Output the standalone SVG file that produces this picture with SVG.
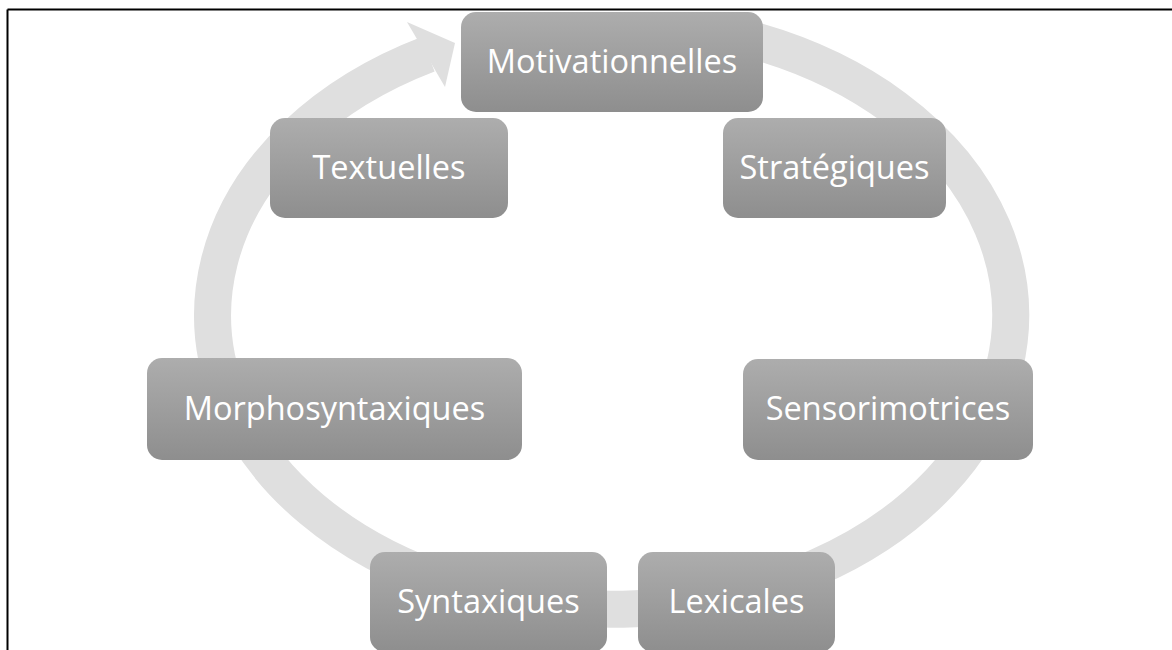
<svg xmlns="http://www.w3.org/2000/svg" width="1172" height="650" viewBox="0 0 1172 650">
<defs>
<linearGradient id="g" x1="0" y1="0" x2="0" y2="1">
<stop offset="0" stop-color="#adadad"/>
<stop offset="1" stop-color="#8e8e8e"/>
</linearGradient>
<style>
.box{fill:url(#g);}
.lbl{font-family:"Open Sans","Liberation Sans",sans-serif;font-size:32.5px;fill:#ffffff;text-anchor:middle;}
.ring{fill:none;stroke:#dfdfdf;stroke-width:37;}
</style>
</defs>
<rect x="0" y="0" width="1172" height="650" fill="#ffffff"/>
<g id="frame">
<line x1="7.5" y1="9.5" x2="1172" y2="9.5" stroke="#000" stroke-width="2"/>
<line x1="7.5" y1="9.5" x2="7.5" y2="650" stroke="#000" stroke-width="2"/>
</g>
<g id="connectors">
<path class="ring" d="M 752,40 A 399 294 0 1 1 428,54.2"/>
<polygon points="407,22 455,43 445,87" fill="#dfdfdf"/>
</g>
<g id="n1"><rect class="box" x="461" y="12" width="302" height="100" rx="15"/><text class="lbl" x="612" y="73">Motivationnelles</text></g>
<g id="n2"><rect class="box" x="723" y="118" width="223" height="100" rx="15"/><text class="lbl" x="834.5" y="179">Stratégiques</text></g>
<g id="n3"><rect class="box" x="743" y="359" width="290" height="101" rx="15"/><text class="lbl" x="888" y="420">Sensorimotrices</text></g>
<g id="n4"><rect class="box" x="638" y="552" width="197" height="100" rx="15"/><text class="lbl" x="736.5" y="613">Lexicales</text></g>
<g id="n5"><rect class="box" x="370" y="552" width="237" height="100" rx="15"/><text class="lbl" x="488.5" y="613">Syntaxiques</text></g>
<g id="n6"><rect class="box" x="147" y="358" width="375" height="102" rx="15"/><text class="lbl" x="334.5" y="420">Morphosyntaxiques</text></g>
<g id="n7"><rect class="box" x="270" y="118" width="238" height="100" rx="15"/><text class="lbl" x="389" y="179">Textuelles</text></g>
</svg>
